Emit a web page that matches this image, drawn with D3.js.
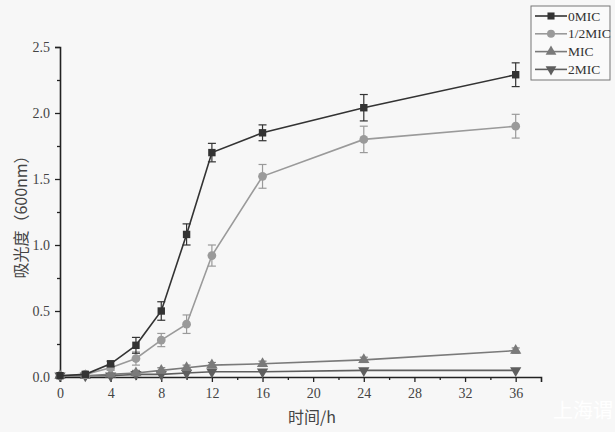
<!DOCTYPE html>
<html><head><meta charset="utf-8">
<script src="https://cdn.jsdelivr.net/npm/d3@7"></script>
<style>body{margin:0;background:#f7f7f7}svg{display:block}</style>
</head><body>
<svg id="c" width="615" height="432"></svg>
<script>
const hours = [0, 2, 4, 6, 8, 10, 12, 16, 24, 36];
const seriesNames = ["0MIC", "1/2MIC", "MIC", "2MIC"];
const mic0 = [0.01, 0.02, 0.10, 0.24, 0.50, 1.08, 1.70, 1.85, 2.04, 2.29];
const mic0Err = [0.005, 0.01, 0.02, 0.06, 0.07, 0.08, 0.07, 0.06, 0.10, 0.09];
const micHalf = [0.01, 0.02, 0.07, 0.14, 0.28, 0.40, 0.92, 1.52, 1.80, 1.90];
const micHalfErr = [0.005, 0.01, 0.02, 0.05, 0.05, 0.07, 0.08, 0.09, 0.10, 0.09];
const mic1 = [0.01, 0.01, 0.02, 0.03, 0.05, 0.07, 0.09, 0.10, 0.13, 0.20];
const mic1Err = [0.005, 0.005, 0.01, 0.02, 0.02, 0.02, 0.02, 0.02, 0.02, 0.02];
const mic2 = [0.01, 0.01, 0.01, 0.02, 0.02, 0.03, 0.04, 0.04, 0.05, 0.05];
const mic2Err = [0.005, 0.005, 0.005, 0.01, 0.01, 0.01, 0.01, 0.01, 0.01, 0.01];
const xTicks = [0, 4, 8, 12, 16, 20, 24, 28, 32, 36];
const yTicks = [0, 0.5, 1.0, 1.5, 2.0, 2.5];
const xLabel = "时间/h";
const yLabel = "吸光度（600nm）";

const series = [
  {name: seriesNames[0], v: mic0, e: mic0Err, color: "#333", shape: d3.symbolSquare},
  {name: seriesNames[1], v: micHalf, e: micHalfErr, color: "#9a9a9a", shape: d3.symbolCircle},
  {name: seriesNames[2], v: mic1, e: mic1Err, color: "#7a7a7a", shape: d3.symbolTriangle},
  {name: seriesNames[3], v: mic2, e: mic2Err, color: "#5e5e5e", shape: "down"}
];

const svg = d3.select("#c");
const x = d3.scaleLinear().domain([0, 38]).range([60, 541]);
const y = d3.scaleLinear().domain([0, 2.5]).range([377, 47]);
const serif = "'Liberation Serif','Times New Roman',serif";

const xAxis = d3.axisBottom(x).tickValues(xTicks).tickSize(5).tickFormat(d3.format("d"));
const gx = svg.append("g").attr("transform", "translate(0,377)").call(xAxis);
const yAxis = d3.axisLeft(y).tickValues(yTicks).tickSize(5).tickFormat(d3.format(".1f"));
const gy = svg.append("g").attr("transform", "translate(60,0)").call(yAxis);
[gx, gy].forEach(g => {
  g.select(".domain").attr("stroke", "#222").attr("stroke-width", 1.6);
  g.selectAll(".tick line").attr("stroke", "#222").attr("stroke-width", 1.3);
  g.selectAll(".tick text").attr("fill", "#444").attr("font-family", serif).attr("font-size", 14);
});
gx.selectAll(".tick text").attr("dy", "0.9em");
gy.selectAll(".tick text").attr("dx", "-2");
const gxm = svg.append("g").attr("transform", "translate(0,377)")
  .call(d3.axisBottom(x).tickValues(d3.range(2, 38, 4)).tickSize(3).tickFormat(""));
const gym = svg.append("g").attr("transform", "translate(60,0)")
  .call(d3.axisLeft(y).tickValues([0.25, 0.75, 1.25, 1.75, 2.25]).tickSize(3).tickFormat(""));
[gxm, gym].forEach(g => {
  g.select(".domain").remove();
  g.selectAll(".tick line").attr("stroke", "#222").attr("stroke-width", 1.3);
});

const markerPath = (s, size) => d3.symbol().type(s.shape === "down" ? d3.symbolTriangle : s.shape).size(size)();

const line = d3.line().x((d, i) => x(hours[i])).y(d => y(d));
const plot = svg.append("g");
series.slice().reverse().forEach(s => {
  const g = plot.append("g");
  g.append("path").datum(s.v).attr("d", line).attr("fill", "none")
    .attr("stroke", s.color).attr("stroke-width", 1.6);
  s.v.forEach((v, i) => {
    const cx = x(hours[i]);
    const e = s.e[i];
    if (e < 0.015) return;
    g.append("line").attr("x1", cx).attr("x2", cx).attr("y1", y(v - e)).attr("y2", y(v + e))
      .attr("stroke", s.color).attr("stroke-width", 1.2);
    [v - e, v + e].forEach(t => g.append("line").attr("x1", cx - 4).attr("x2", cx + 4)
      .attr("y1", y(t)).attr("y2", y(t)).attr("stroke", s.color).attr("stroke-width", 1.2));
  });
  s.v.forEach((v, i) => {
    g.append("path").attr("d", markerPath(s, s.shape === d3.symbolCircle ? 60 : 55))
      .attr("transform", `translate(${x(hours[i])},${y(v)})` + (s.shape === "down" ? " rotate(180)" : ""))
      .attr("fill", s.color);
  });
});

const lg = svg.append("g");
lg.append("rect").attr("x", 531).attr("y", 6).attr("width", 79).attr("height", 74)
  .attr("fill", "#fafafa").attr("stroke", "#777").attr("stroke-width", 1);
series.forEach((s, i) => {
  const ly = 16 + i * 17.8;
  lg.append("line").attr("x1", 535).attr("x2", 567).attr("y1", ly).attr("y2", ly)
    .attr("stroke", s.color).attr("stroke-width", 1.6);
  lg.append("path").attr("d", markerPath(s, 50))
    .attr("transform", `translate(551,${ly})` + (s.shape === "down" ? " rotate(180)" : ""))
    .attr("fill", s.color);
  lg.append("text").attr("x", 568).attr("y", ly + 4.5).text(s.name)
    .attr("font-family", serif).attr("font-size", 13.5).attr("fill", "#333");
});

svg.append("text").attr("x", 312).attr("y", 423).attr("text-anchor", "middle")
  .attr("font-family", "'Noto Sans CJK SC', sans-serif").attr("font-size", 16).attr("fill", "#444").text(xLabel);
svg.append("text").attr("transform", "translate(27,213) rotate(-90)").attr("text-anchor", "middle")
  .attr("font-family", "'Noto Sans CJK SC', sans-serif").attr("font-size", 16).attr("fill", "#444").text(yLabel);
svg.append("text").attr("x", 553).attr("y", 418).attr("font-family", "'Noto Sans CJK SC', sans-serif")
  .attr("font-size", 20).attr("fill", "#ffffff").text("上海谓");
</script>
</body></html>
